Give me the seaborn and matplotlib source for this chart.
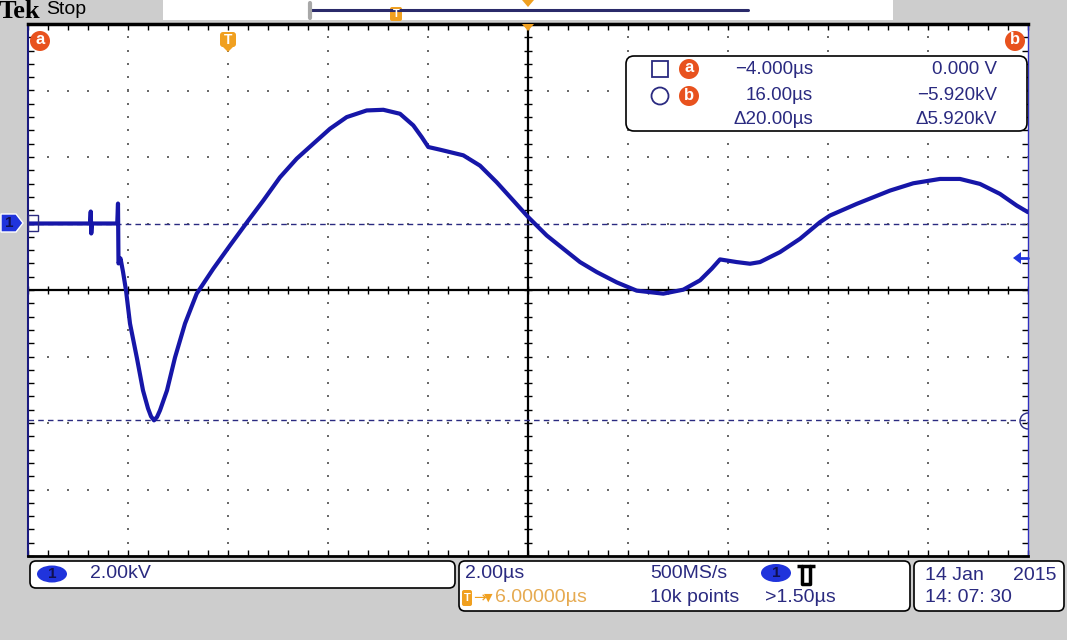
import numpy as np
import matplotlib
matplotlib.use('Agg')
import matplotlib.pyplot as plt
import seaborn as sns
from matplotlib.patches import FancyBboxPatch, Circle, Rectangle, Ellipse, Polygon, Arc

# Waveform (time in us, voltage in kV)
time_us = [-4.00, -3.00, -2.76, -2.745, -2.735, -2.72, -2.50, -2.215, -2.20, -2.19,
           -2.15, -2.10, -2.04, -1.96, -1.82, -1.70, -1.60, -1.54, -1.48, -1.42,
           -1.36, -1.22, -1.06, -0.86, -0.72, -0.626, -0.294, 0.04, 0.406, 0.706,
           1.04, 1.374, 1.706, 2.04, 2.374, 2.774, 3.106, 3.44, 3.706, 3.874,
           4.006, 4.24, 4.706, 5.04, 5.374, 5.706, 6.006, 6.374, 6.706, 7.04,
           7.374, 7.774, 8.174, 8.706, 9.106, 9.44, 9.674, 9.84, 10.174, 10.44,
           10.64, 11.04, 11.44, 11.84, 12.04, 12.574, 13.24, 13.706, 14.24, 14.64,
           15.04, 15.44, 15.774, 16.00]
volt_kv = [0.00, 0.00, 0.00, 0.36, -0.30, 0.00, 0.00, 0.00, 0.60, -1.20,
           -1.05, -1.45, -2.01, -3.01, -4.06, -5.02, -5.56, -5.80, -5.92, -5.82,
           -5.62, -5.02, -4.03, -3.01, -2.47, -2.11, -1.36, -0.66, 0.09, 0.69,
           1.39, 1.95, 2.40, 2.85, 3.20, 3.40, 3.42, 3.30, 2.95, 2.60,
           2.30, 2.22, 2.05, 1.74, 1.24, 0.69, 0.19, -0.36, -0.76, -1.16,
           -1.46, -1.77, -2.02, -2.11, -1.99, -1.71, -1.36, -1.08, -1.16, -1.21,
           -1.16, -0.86, -0.46, 0.04, 0.24, 0.59, 0.99, 1.21, 1.34, 1.34,
           1.19, 0.89, 0.54, 0.34]

# cursor readouts
cursor_a_t, cursor_a_v = -4.0, 0.0
cursor_b_t, cursor_b_v = 16.0, -5.92

# screen range: 10 x 2us, 8 x 2kV
t_min, t_max = -4.0, 16.0
v_min, v_max = -10.0, 6.0
t_center, v_center = 6.0, -2.0

trace_color = '#1616a8'
navy = '#2a2a80'
orange_red = '#e8521e'
orange = '#f0a020'
ch_blue = '#2034dc'
bg_gray = '#cdcdcd'

sns.set_style("white")
plt.rcParams['font.family'] = ['Liberation Sans', 'DejaVu Sans']

fig = plt.figure(figsize=(10.67, 6.4), dpi=100)
fig.patch.set_facecolor(bg_gray)

ax = fig.add_axes([28 / 1067, 1 - 556 / 640, 1000 / 1067, 532 / 640])
ax.set_facecolor('white')
ax.set_xlim(t_min, t_max)
ax.set_ylim(v_min, v_max)

# dotted graticule
major_t = [t for t in np.arange(t_min + 2, t_max, 2.0) if abs(t - t_center) > 1e-6]
major_v = [v for v in np.arange(v_min + 2, v_max, 2.0) if abs(v - v_center) > 1e-6]
minor_t = np.arange(t_min, t_max + 0.01, 0.4)
minor_v = np.arange(v_min, v_max + 0.01, 0.4)
for v in major_v:
    ax.scatter(minor_t, np.full_like(minor_t, v), s=1.6, color='#6a6a6a', marker='s', lw=0, zorder=1)
for t in major_t:
    ax.scatter(np.full_like(minor_v, t), minor_v, s=1.6, color='#6a6a6a', marker='s', lw=0, zorder=1)

# solid centre cross with ticks
ax.axhline(v_center, color='black', lw=1.6, zorder=2)
ax.axvline(t_center, color='black', lw=1.6, zorder=2)
ax.vlines(minor_t, v_center - 0.12, v_center + 0.12, color='black', lw=1, zorder=2)
ax.hlines(minor_v, t_center - 0.08, t_center + 0.08, color='black', lw=1, zorder=2)

# cursor lines
ax.axhline(cursor_a_v, color=navy, lw=1, dashes=(4, 3), zorder=2)
ax.axhline(cursor_b_v, color=navy, lw=1, dashes=(4, 3), zorder=2)

# the trace
sns.lineplot(x=time_us, y=volt_kv, ax=ax, color=trace_color, linewidth=3.0,
             sort=False, estimator=None, zorder=3, solid_joinstyle='round')

ax.set_xticks(minor_t)
ax.set_yticks(minor_v)
ax.set_xticklabels([])
ax.set_yticklabels([])
ax.tick_params(direction='in', length=4, width=1, colors='black',
               top=True, bottom=True, left=True, right=True, pad=0)
ax.set_xlabel('')
ax.set_ylabel('')
ax.spines['top'].set_color('black')
ax.spines['top'].set_linewidth(2.5)
ax.spines['bottom'].set_color('black')
ax.spines['bottom'].set_linewidth(2.0)
ax.spines['left'].set_color('#1a1a80')
ax.spines['left'].set_linewidth(1.5)
ax.spines['right'].set_color('#3030c0')
ax.spines['right'].set_linewidth(1.0)

# UI overlay in pixel coordinates
ui = fig.add_axes([0, 0, 1, 1])
ui.set_xlim(0, 1067)
ui.set_ylim(640, 0)
ui.axis('off')
ui.patch.set_alpha(0)

# top bar
ui.text(-1, 11, 'Tek', fontsize=19, fontweight='bold', family=['Liberation Serif'],
        va='center', ha='left', color='black')
ui.text(46, 10, 'Stop', fontsize=14, va='center', ha='left', color='black')
ui.add_patch(Rectangle((163, 0), 730, 20, facecolor='white', edgecolor='none'))
ui.plot([311, 748], [10, 10], color='#2a2a6a', lw=2.2)
ui.plot([310, 310], [3, 18], color='#a8a8a8', lw=3)
ui.add_patch(FancyBboxPatch((390, 7), 12, 14, boxstyle='round,pad=0,rounding_size=2',
                            facecolor=orange, edgecolor='none'))
ui.text(396, 14, 'T', fontsize=8, color='white', ha='center', va='center', fontweight='bold')
ui.add_patch(Polygon([(522, 0), (534, 0), (528, 7)], facecolor=orange, edgecolor='none'))
ui.add_patch(Polygon([(522, 24), (534, 24), (528, 31)], facecolor=orange, edgecolor='none'))

# on-screen markers
for cx, label in [(40, 'a'), (1015, 'b')]:
    ui.add_patch(Circle((cx, 41), 10, facecolor=orange_red, edgecolor='none'))
    ui.text(cx, 40, label, fontsize=12, color='white', ha='center', va='center', fontweight='bold')
ui.add_patch(FancyBboxPatch((220, 32), 16, 15, boxstyle='round,pad=0,rounding_size=3',
                            facecolor=orange, edgecolor='none'))
ui.add_patch(Polygon([(222, 46), (234, 46), (228, 52)], facecolor=orange, edgecolor='none'))
ui.text(228, 40, 'T', fontsize=10, color='white', ha='center', va='center', fontweight='bold')

# channel 1 ground marker and cursor markers
ui.add_patch(Polygon([(1, 214), (16, 214), (23, 223), (16, 232), (1, 232)],
                     facecolor=ch_blue, edgecolor='white', lw=1))
ui.text(9, 223, '1', fontsize=11, color='#101050', ha='center', va='center', fontweight='bold')
ui.add_patch(Rectangle((28, 215), 10, 16, facecolor='none', edgecolor=navy, lw=1))
ui.add_patch(Polygon([(1013, 258), (1021, 252), (1021, 264)], facecolor=ch_blue, edgecolor='none'))
ui.plot([1020, 1028], [258, 258], color=ch_blue, lw=2)
ui.add_patch(Arc((1028, 421), 16, 16, theta1=90, theta2=270, color=navy, lw=1))

# cursor readout box
ui.add_patch(FancyBboxPatch((626, 56), 401, 75, boxstyle='round,pad=0,rounding_size=8',
                            facecolor='white', edgecolor='black', lw=1.2))
ui.add_patch(Rectangle((652, 61), 16, 16, facecolor='none', edgecolor=navy, lw=1.3))
ui.add_patch(Circle((660, 96), 8.5, facecolor='none', edgecolor=navy, lw=1.3))
for cy, label in [(69, 'a'), (96, 'b')]:
    ui.add_patch(Circle((689, cy), 10, facecolor=orange_red, edgecolor='none'))
    ui.text(689, cy - 1, label, fontsize=12, color='white', ha='center', va='center', fontweight='bold')
rows = [(69, '\u22124.000\u00b5s', '0.000 V'),
        (95, '16.00\u00b5s', '\u22125.920kV'),
        (120, '\u039420.00\u00b5s', '\u03945.920kV')]
for cy, tx, vx in rows:
    ui.text(813, cy, tx, fontsize=13.5, color=navy, ha='right', va='center')
    ui.text(997, cy, vx, fontsize=13.5, color=navy, ha='right', va='center')

# bottom status boxes
ui.add_patch(FancyBboxPatch((30, 561), 425, 27, boxstyle='round,pad=0,rounding_size=6',
                            facecolor='white', edgecolor='black', lw=1.2))
ui.add_patch(Ellipse((52, 574), 30, 17, facecolor=ch_blue, edgecolor='none'))
ui.text(52, 574, '1', fontsize=11, color='#101050', ha='center', va='center', fontweight='bold')
ui.text(90, 574, '2.00kV', fontsize=14, color=navy, ha='left', va='center')

ui.add_patch(FancyBboxPatch((459, 561), 451, 50, boxstyle='round,pad=0,rounding_size=6',
                            facecolor='white', edgecolor='black', lw=1.2))
ui.text(465, 574, '2.00\u00b5s', fontsize=14, color=navy, ha='left', va='center')
ui.text(650, 574, '500MS/s', fontsize=14, color=navy, ha='left', va='center')
ui.text(650, 598, '10k points', fontsize=14, color=navy, ha='left', va='center')
ui.add_patch(Ellipse((776, 573), 30, 18, facecolor=ch_blue, edgecolor='none'))
ui.text(776, 573, '1', fontsize=11, color='#101050', ha='center', va='center', fontweight='bold')
ui.plot([797, 815], [566, 566], color='black', lw=2.5, solid_capstyle='butt')
ui.plot([802, 802, 810, 810], [566, 584, 584, 566], color='black', lw=2.5)
ui.text(765, 598, '>1.50\u00b5s', fontsize=14, color=navy, ha='left', va='center')
ui.add_patch(FancyBboxPatch((462, 590), 10, 16, boxstyle='round,pad=0,rounding_size=2',
                            facecolor=orange, edgecolor='none'))
ui.text(467, 598, 'T', fontsize=8, color='white', ha='center', va='center', fontweight='bold')
ui.text(473, 598, '\u2192', fontsize=11, color=orange, ha='left', va='center', family=['DejaVu Sans'])
ui.text(484, 598, '\u25bc', fontsize=8, color=orange, ha='left', va='center', family=['DejaVu Sans'])
ui.text(495, 598, '6.00000\u00b5s', fontsize=14, color='#e6aa50', ha='left', va='center')

ui.add_patch(FancyBboxPatch((914, 561), 150, 50, boxstyle='round,pad=0,rounding_size=6',
                            facecolor='white', edgecolor='black', lw=1.2))
ui.text(925, 575, '14 Jan', fontsize=14, color=navy, ha='left', va='center')
ui.text(1057, 575, '2015', fontsize=14, color=navy, ha='right', va='center')
ui.text(925, 598, '14: 07: 30', fontsize=14, color=navy, ha='left', va='center')

fig.savefig('out.png', dpi=100, facecolor=fig.get_facecolor())
